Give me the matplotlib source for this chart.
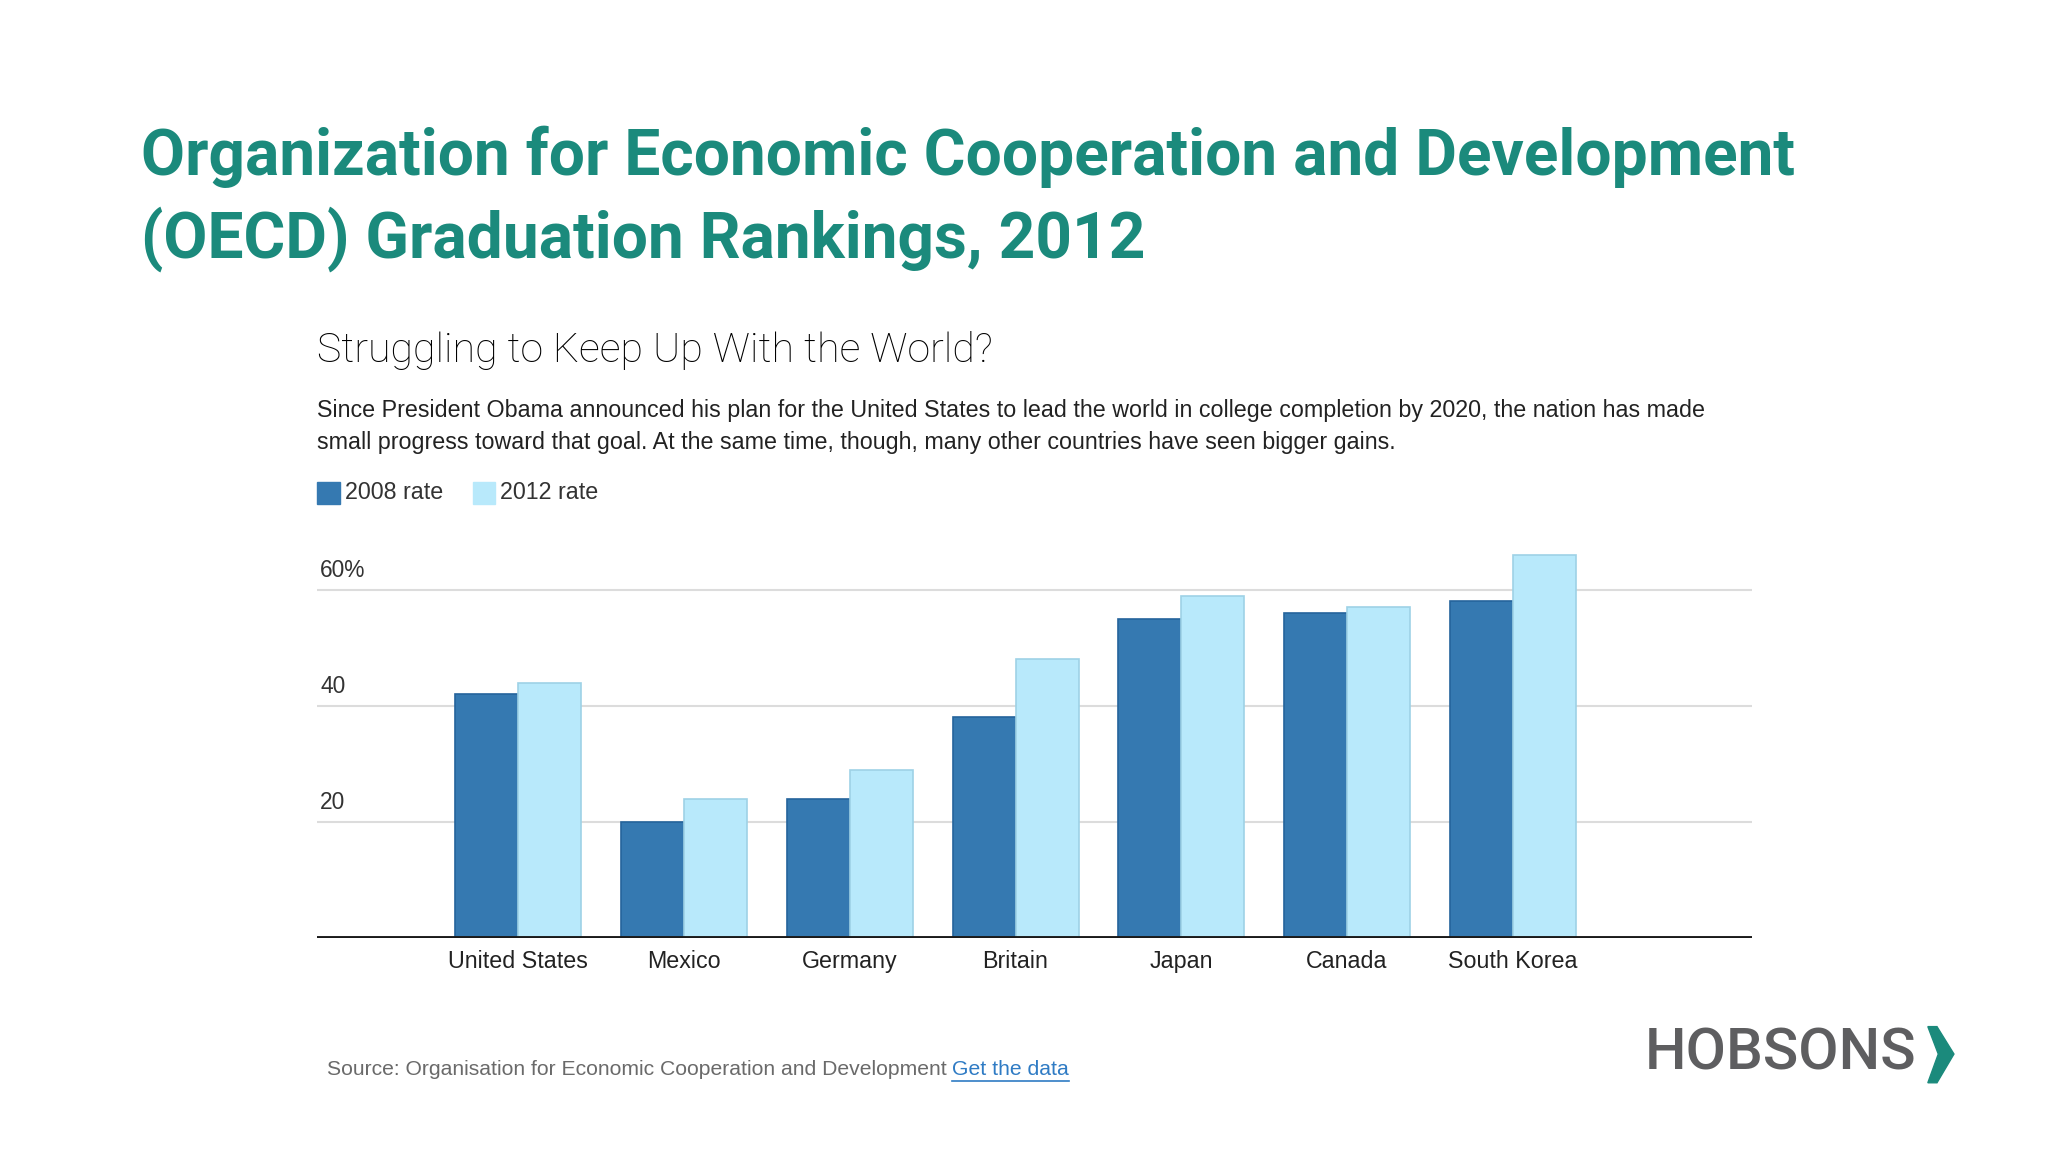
import matplotlib.pyplot as plt
from matplotlib.patches import Polygon

countries = ["United States", "Mexico", "Germany", "Britain", "Japan", "Canada", "South Korea"]
rate_2008 = [42, 20, 24, 38, 55, 56, 58]
rate_2012 = [44, 24, 29, 48, 59, 57, 66]
y_ticks = [20, 40, 60]
y_tick_labels = ["20", "40", "60%"]

TEAL = "#1b8a7c"
DARK = "#3579b1"
LIGHT = "#b8e9fb"
BODY = ["Liberation Sans", "DejaVu Sans"]

# reference was read at 1568x882, convert those pixel spots to figure fractions
W, H = 1568.0, 882.0


def fx(x):
    return x / W


def fy(y):
    return 1 - y / H


def fit_width(fig, txt, target_px):
    # scale a text so it spans target_px (in reference pixels)
    r = fig.canvas.get_renderer()
    w = txt.get_window_extent(r).width * W / fig.bbox.width
    txt.set_fontsize(txt.get_fontsize() * target_px / w)


fig = plt.figure(figsize=(20.48, 11.52), dpi=100)
fig.patch.set_facecolor("white")

title_font = ["Roboto", "Liberation Sans", "DejaVu Sans"]
t1 = fig.text(fx(108), fy(120), "Organization for Economic Cooperation and Development",
              color=TEAL, fontweight="bold", family=title_font, fontsize=50, va="center")
fit_width(fig, t1, 1265)
t2 = fig.text(fx(108), fy(183), "(OECD) Graduation Rankings, 2012",
              color=TEAL, fontweight="bold", family=title_font, fontsize=t1.get_fontsize(), va="center")

sub = fig.text(fx(243), fy(268), "Struggling to Keep Up With the World?", color="#000000",
               family=["Roboto", "DejaVu Sans"], fontweight="light", fontsize=28, va="center")
fit_width(fig, sub, 517)

d1 = fig.text(fx(243), fy(314), "Since President Obama announced his plan for the United States to lead the world in "
              "college completion by 2020, the nation has made", color="#222222",
              family=BODY, fontsize=13, va="center")
fit_width(fig, d1, 1058)
fs = d1.get_fontsize()
fig.text(fx(243), fy(339), "small progress toward that goal. At the same time, though, many other countries have "
         "seen bigger gains.", color="#222222", family=BODY, fontsize=fs, va="center")

# legend
for x0, col, lab in [(243, DARK, "2008 rate"), (362, LIGHT, "2012 rate")]:
    fig.patches.append(plt.Rectangle((fx(x0), fy(386)), fx(17), 17 / H, color=col,
                                     transform=fig.transFigure, figure=fig))
    fig.text(fx(x0 + 21), fy(377), lab, color="#333333", family=BODY, fontsize=fs, va="center")

ax = fig.add_axes([fx(243), fy(718), fx(1341) - fx(243), fy(416) - fy(718)])
x = list(range(len(countries)))
bw = 0.38
ax.bar([i - bw / 2 for i in x], rate_2008, width=bw, color=DARK, edgecolor="#25649c", linewidth=1.2, zorder=3)
ax.bar([i + bw / 2 for i in x], rate_2012, width=bw, color=LIGHT, edgecolor="#9ed2e6", linewidth=1.2, zorder=3)
ax.set_xlim(-154 / 127, 6 + 183 / 127)
ax.set_ylim(0, 68)
for v in y_ticks:
    ax.axhline(v, color="#dcdcdc", linewidth=1.5, zorder=1)
ax.axhline(0, color="#1a1a1a", linewidth=2.8, zorder=4)
for s in ax.spines.values():
    s.set_visible(False)
ax.set_yticks([])
ax.set_xticks(x)
ax.set_xticklabels(countries, family=BODY, fontsize=fs * 1.0, color="#222222")
ax.tick_params(axis="x", length=0, pad=9)
for v, lab in zip(y_ticks, y_tick_labels):
    ax.text(0.002, v + 3.3, lab, transform=ax.get_yaxis_transform(), ha="left", va="center",
            family=BODY, fontsize=fs * 0.98, color="#333333")

src = fig.text(fx(250), fy(819), "Source: Organisation for Economic Cooperation and Development ",
               color="#6a6a6a", family=BODY, fontsize=11.5, va="center")
fit_width(fig, src, 481)
r = fig.canvas.get_renderer()
bb = src.get_window_extent(r)
link = fig.text(bb.x1 / fig.bbox.width, fy(819), "Get the data", color="#2f7bc4",
                family=BODY, fontsize=src.get_fontsize(), va="center")
lb = link.get_window_extent(r)
fig.lines.append(plt.Line2D([lb.x0 / fig.bbox.width, lb.x1 / fig.bbox.width], [fy(828), fy(828)],
                            color="#2f7bc4", linewidth=1.2, transform=fig.transFigure, figure=fig))

logo = fig.text(fx(1259), fy(807), "HOBSONS", color="#5e5e60", family=["Roboto", "DejaVu Sans"],
                fontweight="medium", fontsize=30, va="center")
fit_width(fig, logo, 208)
chev = Polygon([(fx(1476), fy(786)), (fx(1483), fy(786)), (fx(1496), fy(807)), (fx(1483), fy(829)),
                (fx(1476), fy(829)), (fx(1484), fy(807))], closed=True, color=TEAL,
               transform=fig.transFigure, figure=fig)
fig.patches.append(chev)

fig.savefig("out.png", dpi=100, facecolor="white")
